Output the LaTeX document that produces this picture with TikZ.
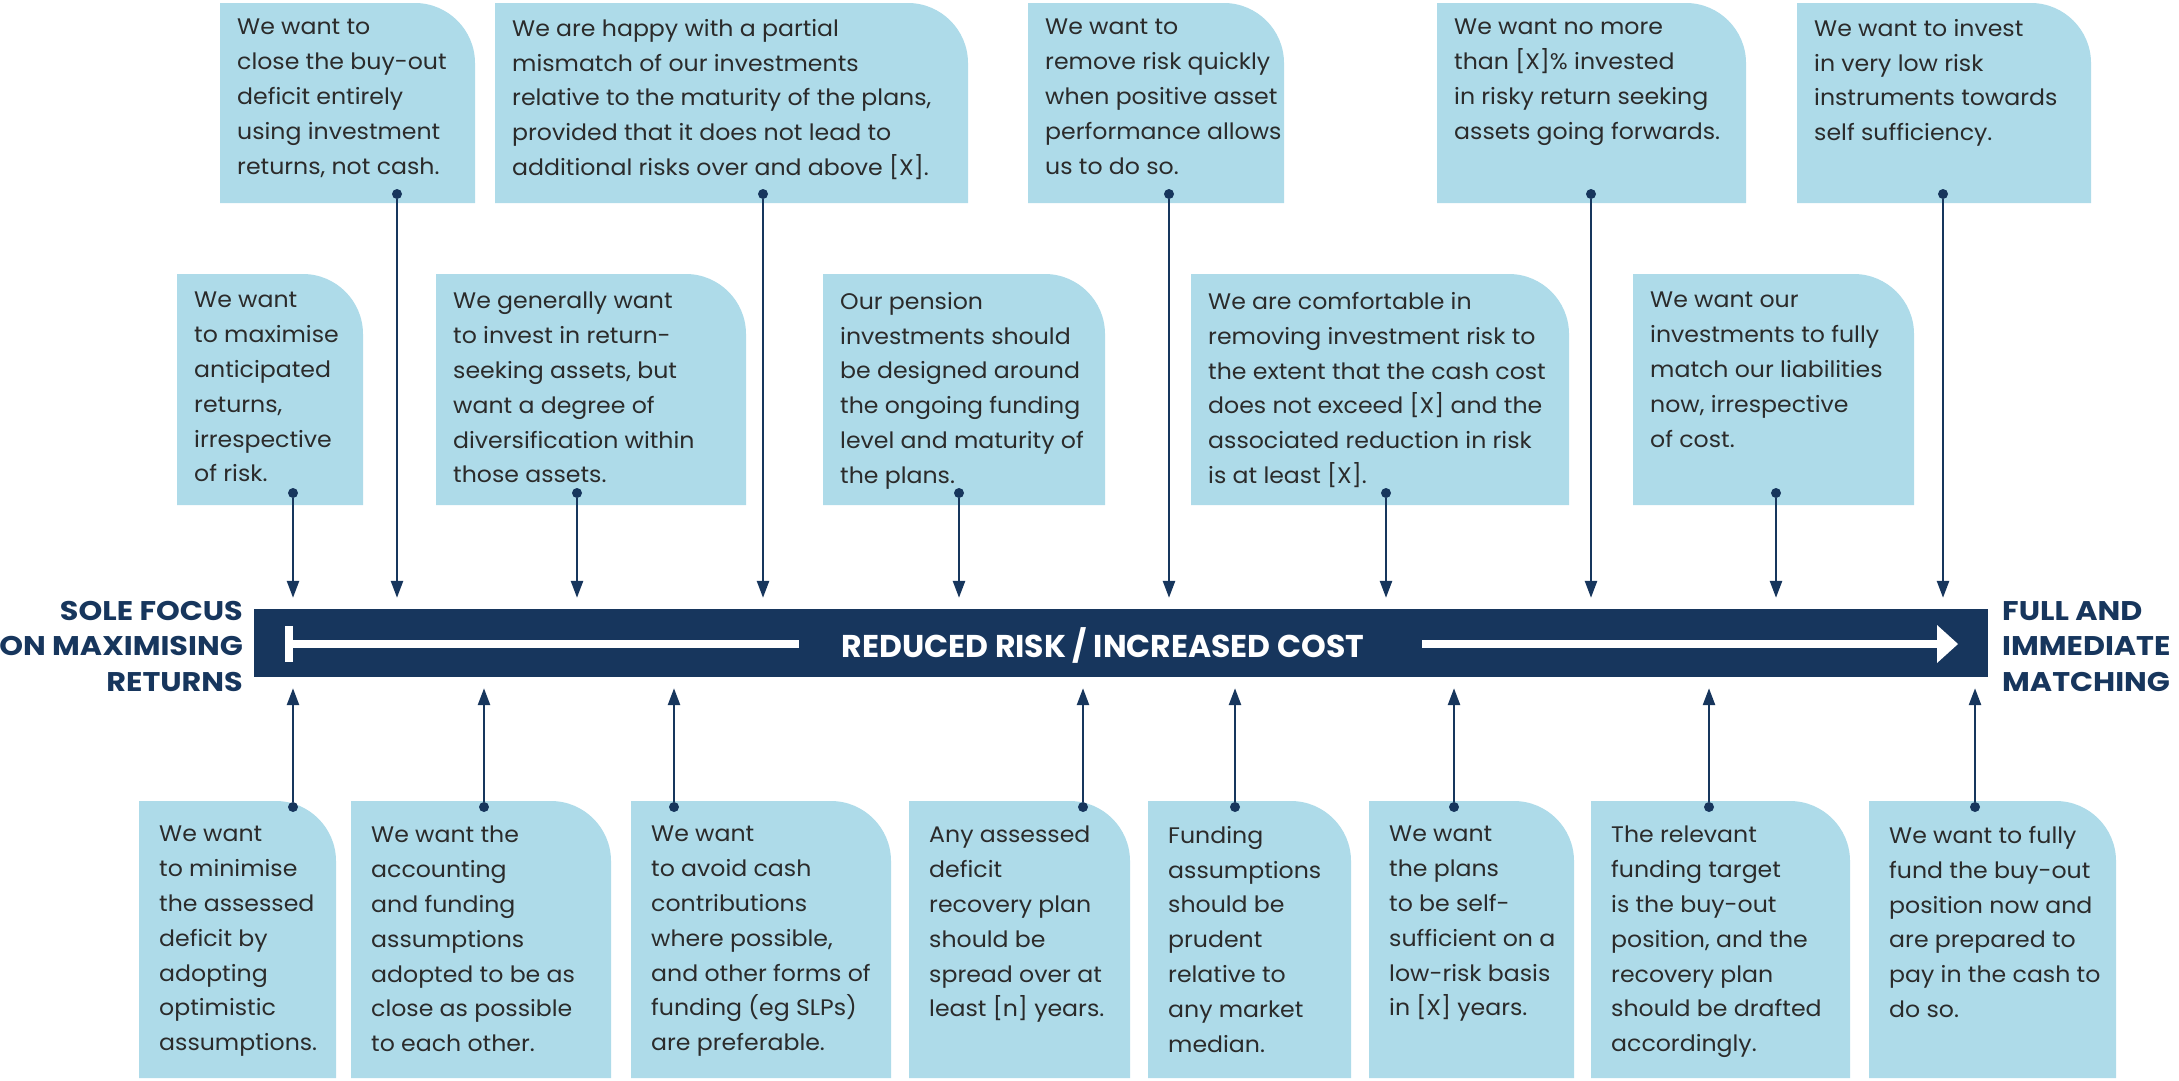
\documentclass[tikz,border=0pt]{standalone}
\usepackage{fontspec}
\setmainfont{Poppins}
\newfontfamily\cardfont[FakeStretch=1.05]{Poppins}
\newfontfamily\headfont[FakeStretch=1.12]{Poppins}
\usetikzlibrary{arrows.meta}
\definecolor{navy}{HTML}{17365D}
\definecolor{cardblue}{HTML}{AEDBE9}
\definecolor{inktext}{HTML}{2B2B2B}

\begin{document}
\begin{tikzpicture}[x=1pt,y=-1pt,
    card/.style={fill=cardblue},
    cardtext/.style={anchor=north west, inner sep=0pt, align=left, text=inktext,
      font=\cardfont\fontsize{22.5}{34.8}\selectfont},
    pindot/.style={circle, fill=navy, inner sep=0pt, minimum size=10pt},
    pin/.style={navy, line width=2.6pt, -{Triangle[width=12pt,length=17pt]}, shorten >=11pt},
    heading/.style={inner sep=0pt, text=navy, font=\headfont\fontsize{27}{35.5}\selectfont\bfseries},
  ]
  \useasboundingbox (0,0) rectangle (2179,1080);

  % the scale bar
  \node[fill=navy, minimum width=1734pt, minimum height=68pt, inner sep=0pt] (bar) at (1121,643) {};
  \fill[white] (285,626) rectangle (293,662);
  \fill[white] (285,640) rectangle (799,648);
  \fill[white] (1422,640) rectangle (1940,648);
  \fill[white] (1937,625) -- (1958,644) -- (1937,663) -- cycle;
  \node[text=white, inner sep=0pt, font=\fontsize{31.5}{31.5}\selectfont\bfseries] (barlabel) at (1103,645) {REDUCED RISK / INCREASED COST};

  \node[heading, align=right, anchor=north east] (lefttitle) at (243,601) {SOLE FOCUS\\ON MAXIMISING\\RETURNS};
  \node[heading, align=left, anchor=north west] (righttitle) at (2002,601) {FULL AND\\IMMEDIATE\\MATCHING};

  % top row
  \foreach \nm/\xa/\xb/\xd/\txt in {
      t1/220/475/397/{We want to\\close the buy-out\\deficit entirely\\using investment\\returns, not cash.},
      t2/495/968/763/{We are happy with a partial\\mismatch of our investments\\relative to the maturity of the plans,\\provided that it does not lead to\\additional risks over and above [X].},
      t3/1028/1284/1169/{We want to\\remove risk quickly\\when positive asset\\performance allows\\us to do so.},
      t4/1437/1746/1591/{We want no more\\than [X]\% invested\\in risky return seeking\\assets going forwards.},
      t5/1797/2091/1943/{We want to invest\\in very low risk\\instruments towards\\self sufficiency.}} {
    \fill[card] (\xa,203) -- (\xa,3) -- (\xb-60,3) .. controls (\xb-27,3) and (\xb,30) .. (\xb,63) -- (\xb,203) -- cycle;
    \node[cardtext] (\nm) at (\xa+17,19) {\txt};
    \node[pindot] (\nm-dot) at (\xd,194) {};
    \draw[pin] (\nm-dot) -- (\nm-dot |- bar.north);
  }

  % middle row
  \foreach \nm/\xa/\xb/\xd/\txt in {
      m1/177/363/293/{We want\\to maximise\\anticipated\\returns,\\irrespective\\of risk.},
      m2/436/746/577/{We generally want\\to invest in return-\\seeking assets, but\\want a degree of\\diversification within\\those assets.},
      m3/823/1105/959/{Our pension\\investments should\\be designed around\\the ongoing funding\\level and maturity of\\the plans.},
      m4/1191/1569/1386/{We are comfortable in\\removing investment risk to\\the extent that the cash cost\\does not exceed [X] and the\\associated reduction in risk\\is at least [X].},
      m5/1633/1914/1776/{We want our\\investments to fully\\match our liabilities\\now, irrespective\\of cost.}} {
    \fill[card] (\xa,505) -- (\xa,274) -- (\xb-60,274) .. controls (\xb-27,274) and (\xb,301) .. (\xb,334) -- (\xb,505) -- cycle;
    \node[cardtext] (\nm) at (\xa+17,292) {\txt};
    \node[pindot] (\nm-dot) at (\xd,493) {};
    \draw[pin] (\nm-dot) -- (\nm-dot |- bar.north);
  }

  % bottom row
  \foreach \nm/\xa/\xb/\xd/\txt in {
      b1/139/336/293/{We want\\to minimise\\the assessed\\deficit by\\adopting\\optimistic\\assumptions.},
      b2/351/611/484/{We want the\\accounting\\and funding\\assumptions\\adopted to be as\\close as possible\\to each other.},
      b3/631/891/674/{We want\\to avoid cash\\contributions\\where possible,\\and other forms of\\funding (eg SLPs)\\are preferable.},
      b4/909/1130/1083/{Any assessed\\deficit\\recovery plan\\should be\\spread over at\\least [n] years.},
      b5/1148/1351/1235/{Funding\\assumptions\\should be\\prudent\\relative to\\any market\\median.},
      b6/1369/1574/1454/{We want\\the plans\\to be self-\\sufficient on a\\low-risk basis\\in [X] years.},
      b7/1591/1850/1709/{The relevant\\funding target\\is the buy-out\\position, and the\\recovery plan\\should be drafted\\accordingly.},
      b8/1869/2116/1975/{We want to fully\\fund the buy-out\\position now and\\are prepared to\\pay in the cash to\\do so.}} {
    \fill[card] (\xa,1078) -- (\xa,801) -- (\xb-60,801) .. controls (\xb-27,801) and (\xb,828) .. (\xb,861) -- (\xb,1078) -- cycle;
    \node[cardtext] (\nm) at (\xa+20,826) {\txt};
    \node[pindot] (\nm-dot) at (\xd,807) {};
    \draw[pin] (\nm-dot) -- (\nm-dot |- bar.south);
  }
\end{tikzpicture}
\end{document}
